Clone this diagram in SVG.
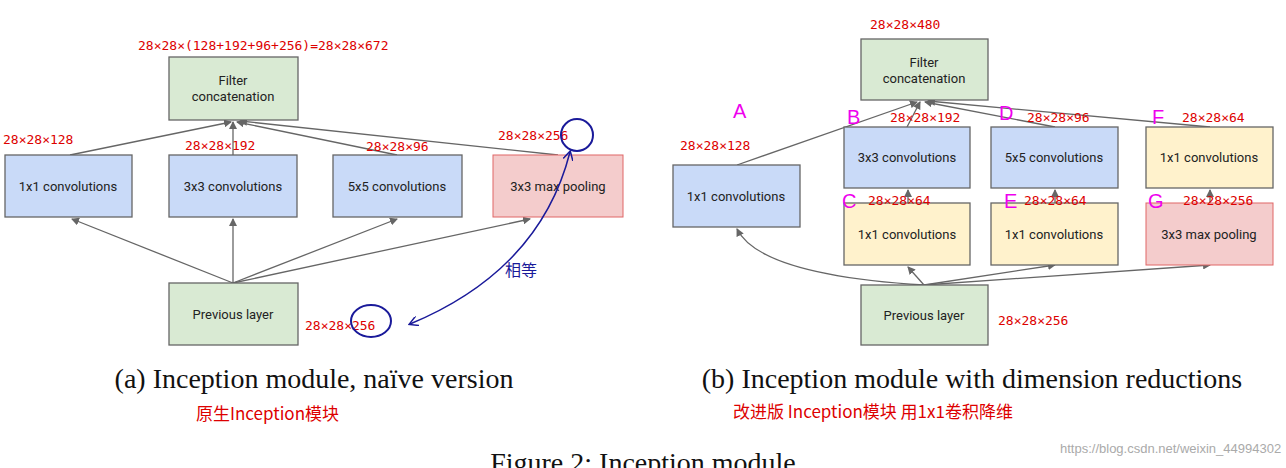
<svg xmlns="http://www.w3.org/2000/svg" width="1286" height="468" viewBox="0 0 1286 468">
<style>
.b{stroke:#666;stroke-width:1.3}
.g{fill:#d9ead3}.bl{fill:#c9daf8}.y{fill:#fff2cc}.r{fill:#f4cccc;stroke:#e06666}
.t{font-family:Roboto,"Liberation Sans",sans-serif;font-size:13px;fill:#222;text-anchor:middle}
.h{font-family:"DejaVu Sans Mono","Liberation Mono",monospace;font-size:13px;fill:#d00}
.m{font-family:"Liberation Sans",sans-serif;font-size:20px;fill:#e0e}
.c{font-family:"Liberation Serif",serif;font-size:28px;fill:#111;text-anchor:middle}
.z{font-family:"Noto Sans CJK SC",sans-serif;font-size:17px;fill:#d00}
.l{stroke:#666;stroke-width:1.3;fill:none;marker-end:url(#a)}
</style>
<defs><marker id="a" markerWidth="8" markerHeight="8" refX="7" refY="4" orient="auto" markerUnits="userSpaceOnUse"><path d="M0,0L8,4L0,8z" fill="#666"/></marker>
<marker id="ab" markerWidth="10" markerHeight="10" refX="8" refY="5" orient="auto-start-reverse" markerUnits="userSpaceOnUse"><path d="M0,0L9,5L0,10" fill="none" stroke="#1a1a9a" stroke-width="1.5"/></marker></defs>
<rect width="1286" height="468" fill="#fff"/>
<g id="connectors">
<path class="l" d="M233,283L72,219"/><path class="l" d="M233,283L233,219"/><path class="l" d="M233,283L397,219"/><path class="l" d="M233,283L530,219"/>
<path class="l" d="M70,155L231,122"/><path class="l" d="M233,155L233,122"/><path class="l" d="M397,155L237,122"/><path class="l" d="M558,155L240,121"/>
<path class="l" d="M924,285Q760,275 737,229"/><path class="l" d="M924,285L908,267"/><path class="l" d="M924,285L1055,265"/><path class="l" d="M924,285L1210,265"/>
<path class="l" d="M908,203L908,190"/><path class="l" d="M1055,203L1055,190"/><path class="l" d="M1210,203L1210,190"/>
<path class="l" d="M737,165L917,102"/><path class="l" d="M907,127L920,102"/><path class="l" d="M1055,127L925,102"/><path class="l" d="M1210,127L928,101"/>
</g>
<g id="n1"><rect class="g b" x="169" y="57" width="129" height="63"/><text class="t" x="233" y="85">Filter</text><text class="t" x="233" y="101">concatenation</text></g>
<g id="n2"><rect class="bl b" x="5" y="155" width="127" height="62"/><text class="t" x="68" y="191">1x1 convolutions</text></g>
<g id="n3"><rect class="bl b" x="169" y="155" width="128" height="62"/><text class="t" x="233" y="191">3x3 convolutions</text></g>
<g id="n4"><rect class="bl b" x="333" y="155" width="129" height="62"/><text class="t" x="397" y="191">5x5 convolutions</text></g>
<g id="n5"><rect class="r" x="493" y="155" width="130" height="62"/><text class="t" x="558" y="191">3x3 max pooling</text></g>
<g id="n6"><rect class="g b" x="169" y="283" width="129" height="62"/><text class="t" x="233" y="319">Previous layer</text></g>
<g id="r1"><rect class="g b" x="861" y="39" width="127" height="61"/><text class="t" x="924" y="67">Filter</text><text class="t" x="924" y="83">concatenation</text></g>
<g id="r2"><rect class="bl b" x="673" y="165" width="127" height="62"/><text class="t" x="736" y="201">1x1 convolutions</text></g>
<g id="r3"><rect class="bl b" x="844" y="127" width="126" height="61"/><text class="t" x="907" y="162">3x3 convolutions</text></g>
<g id="r4"><rect class="bl b" x="991" y="127" width="127" height="61"/><text class="t" x="1054" y="162">5x5 convolutions</text></g>
<g id="r5"><rect class="y b" x="1146" y="127" width="127" height="61"/><text class="t" x="1209" y="162">1x1 convolutions</text></g>
<g id="r6"><rect class="y b" x="844" y="203" width="126" height="62"/><text class="t" x="907" y="239">1x1 convolutions</text></g>
<g id="r7"><rect class="y b" x="991" y="203" width="127" height="62"/><text class="t" x="1054" y="239">1x1 convolutions</text></g>
<g id="r8"><rect class="r" x="1146" y="203" width="127" height="62"/><text class="t" x="1209" y="239">3x3 max pooling</text></g>
<g id="r9"><rect class="g b" x="861" y="285" width="127" height="60"/><text class="t" x="924" y="320">Previous layer</text></g>
<g id="notes">
<text class="h" x="138" y="50">28×28×(128+192+96+256)=28×28×672</text>
<text class="h" x="3" y="144">28×28×128</text><text class="h" x="185" y="150">28×28×192</text><text class="h" x="366" y="151">28×28×96</text>
<text class="h" x="498" y="140">28×28×256</text><text class="h" x="305" y="330">28×28×256</text>
<ellipse cx="577" cy="135" rx="16" ry="16" fill="none" stroke="#1a1a9a" stroke-width="2"/>
<ellipse cx="371" cy="321" rx="20" ry="16" fill="none" stroke="#1a1a9a" stroke-width="2"/>
<path d="M410,324Q540,270 570,152" fill="none" stroke="#1a1a9a" stroke-width="1.5" marker-start="url(#ab)" marker-end="url(#ab)"/>
<text x="505" y="276" font-family="'Noto Sans CJK SC',sans-serif" font-size="16" fill="#1a1a9a">相等</text>
<text class="h" x="870" y="29">28×28×480</text><text class="h" x="680" y="150">28×28×128</text>
<text class="h" x="890" y="122">28×28×192</text><text class="h" x="1027" y="122">28×28×96</text><text class="h" x="1182" y="122">28×28×64</text>
<text class="h" x="868" y="205">28×28×64</text><text class="h" x="1024" y="205">28×28×64</text><text class="h" x="1183" y="205">28×28×256</text>
<text class="h" x="998" y="325">28×28×256</text>
<text class="m" x="733" y="118">A</text><text class="m" x="847" y="124">B</text><text class="m" x="999" y="120">D</text><text class="m" x="1152" y="124">F</text>
<text class="m" x="842" y="208">C</text><text class="m" x="1004" y="208">E</text><text class="m" x="1148" y="208">G</text>
<text class="c" x="314" y="388">(a)  Inception module, naïve version</text>
<text class="c" x="972" y="388">(b)  Inception module with dimension reductions</text>
<text class="z" x="196" y="420">原生Inception模块</text>
<text class="z" x="733" y="418">改进版 Inception模块  用1x1卷积降维</text>
<text class="c" x="643" y="472">Figure 2: Inception module</text>
<text x="1060" y="453" font-family="'Liberation Sans',sans-serif" font-size="13" fill="#aaa">https://blog.csdn.net/weixin_44994302</text>
</g>
</svg>
